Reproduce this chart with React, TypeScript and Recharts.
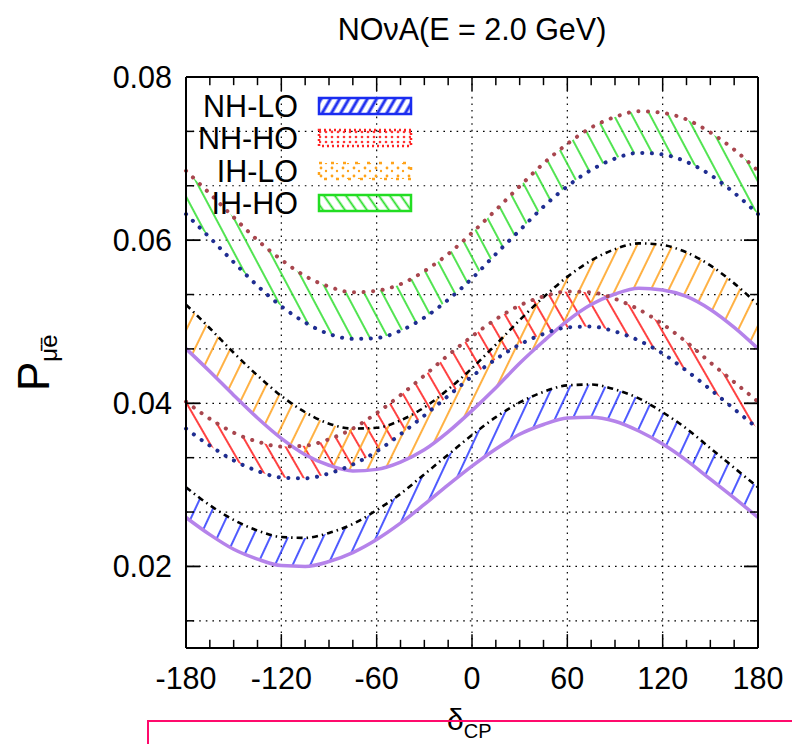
import {
  ComposedChart,
  Area,
  Line,
  XAxis,
  YAxis,
  CartesianGrid,
  ReferenceLine,
  Legend,
} from "recharts";

const FONT = '"Liberation Sans", Arial, Helvetica, sans-serif';

// delta_CP in degrees
const deltaCP = [
  -180, -165, -150, -135, -120, -105, -90, -75, -60, -45, -30, -15, 0, 15, 30,
  45, 60, 75, 90, 105, 120, 135, 150, 165, 180,
];

// NH-LO band (purple solid lower, black dash-dot upper)
const nhloLow = [
  0.026, 0.0239, 0.0221, 0.0209, 0.0201, 0.02, 0.0206, 0.0217, 0.0233, 0.0253,
  0.0276, 0.03, 0.0323, 0.0344, 0.0362, 0.0374, 0.0382, 0.0383, 0.0378, 0.0366,
  0.035, 0.033, 0.0307, 0.0284, 0.026,
];
const nhloHigh = [
  0.0297, 0.0275, 0.0257, 0.0244, 0.0236, 0.0235, 0.0241, 0.0252, 0.0269,
  0.0289, 0.0313, 0.0337, 0.0361, 0.0383, 0.0401, 0.0414, 0.0422, 0.0423,
  0.0417, 0.0406, 0.0389, 0.0369, 0.0345, 0.0321, 0.0297,
];
// NH-HO band (navy dotted lower, brown dotted upper)
const nhhoLow = [
  0.0369, 0.0348, 0.033, 0.0317, 0.0309, 0.0308, 0.0314, 0.0325, 0.0341,
  0.0362, 0.0385, 0.0409, 0.0433, 0.0454, 0.0472, 0.0485, 0.0493, 0.0494,
  0.0488, 0.0477, 0.0461, 0.044, 0.0417, 0.0393, 0.0369,
];
const nhhoHigh = [
  0.0402, 0.0381, 0.0364, 0.0353, 0.0347, 0.0348, 0.0356, 0.0369, 0.0388,
  0.041, 0.0434, 0.0459, 0.0482, 0.0503, 0.052, 0.0531, 0.0537, 0.0536, 0.0528,
  0.0515, 0.0497, 0.0475, 0.045, 0.0426, 0.0402,
];
// IH-LO band
const ihloLow = [
  0.0467, 0.0439, 0.041, 0.0382, 0.0357, 0.0337, 0.0324, 0.0317, 0.0319,
  0.0328, 0.0343, 0.0365, 0.0391, 0.0419, 0.0449, 0.0476, 0.0501, 0.0521,
  0.0534, 0.0541, 0.0539, 0.0531, 0.0515, 0.0493, 0.0467,
];
const ihloHigh = [
  0.0521, 0.0492, 0.0462, 0.0434, 0.0409, 0.0389, 0.0375, 0.0369, 0.037,
  0.0379, 0.0395, 0.0417, 0.0443, 0.0472, 0.0502, 0.053, 0.0555, 0.0575,
  0.0589, 0.0596, 0.0594, 0.0585, 0.0569, 0.0547, 0.0521,
];
// IH-HO band
const ihhoLow = [
  0.0632, 0.0603, 0.0573, 0.0544, 0.0519, 0.0499, 0.0485, 0.0479, 0.048,
  0.0489, 0.0505, 0.0527, 0.0553, 0.0583, 0.0612, 0.0641, 0.0666, 0.0686,
  0.07, 0.0707, 0.0705, 0.0696, 0.068, 0.0658, 0.0632,
];
const ihhoHigh = [
  0.0685, 0.0657, 0.0628, 0.06, 0.0576, 0.0556, 0.0543, 0.0536, 0.0538,
  0.0546, 0.0562, 0.0583, 0.0609, 0.0637, 0.0666, 0.0694, 0.0718, 0.0738,
  0.0751, 0.0758, 0.0756, 0.0748, 0.0732, 0.0711, 0.0685,
];

const xTicks = [-180, -120, -60, 0, 60, 120, 180];
const xMajorMarks = [-120, -60, 0, 60, 120];
const xMinorMarks = [
  -165, -150, -135, -105, -90, -75, -45, -30, -15, 15, 30, 45, 75, 90, 105,
  135, 150, 165,
];
const yLabelTicks = [0.02, 0.04, 0.06, 0.08];
const yGridTicks = [
  0.013333, 0.02, 0.026667, 0.033333, 0.04, 0.046667, 0.053333, 0.06, 0.066667,
  0.073333, 0.08,
];
const yMajorMarks = [0.02, 0.04, 0.06];
const yMinorMarks = [0.013333, 0.026667, 0.033333, 0.046667, 0.053333, 0.066667, 0.073333];

const legendNames = ["NH-LO", "NH-HO", "IH-LO", "IH-HO"];

const rows = deltaCP.map((d, i) => ({
  d,
  nhloLow: nhloLow[i],
  nhloHigh: nhloHigh[i],
  nhloBand: [nhloLow[i], nhloHigh[i]],
  nhhoLow: nhhoLow[i],
  nhhoHigh: nhhoHigh[i],
  nhhoBand: [nhhoLow[i], nhhoHigh[i]],
  ihloLow: ihloLow[i],
  ihloHigh: ihloHigh[i],
  ihloBand: [ihloLow[i], ihloHigh[i]],
  ihhoLow: ihhoLow[i],
  ihhoHigh: ihhoHigh[i],
  ihhoBand: [ihhoLow[i], ihhoHigh[i]],
}));

// tick mark lengths in data units (plot is 572 x 571 px)
const X_MAJOR = 8.8;
const X_MINOR = 5;
const Y_MAJOR = 0.0017;
const Y_MINOR = 0.001;

const PURPLE = "#b583ea";
const NAVY = "#1f2d91";
const BROWN = "#a8464e";

const fmtY = (v: number) =>
  yLabelTicks.some((t) => Math.abs(t - v) < 1e-6) ? v.toFixed(2) : "";

const hatch = (id: string, color: string, angle: number, gap: number, w = 1.7) => (
  <pattern
    id={id}
    patternUnits="userSpaceOnUse"
    width={gap}
    height={gap}
    patternTransform={`rotate(${angle})`}
  >
    <line x1={gap / 2} y1={0} x2={gap / 2} y2={gap} stroke={color} strokeWidth={w} />
  </pattern>
);

const renderLegend = () => {
  const rowY = [21, 53, 86, 118];
  return (
    <svg width={240} height={135} style={{ display: "block", overflow: "visible" }}>
      {legendNames.map((name, i) => (
        <text
          key={name}
          x={112}
          y={rowY[i] + 11}
          textAnchor="end"
          fontSize={30.5}
          fontFamily={FONT}
          fill="#000"
        >
          {name}
        </text>
      ))}
      <rect x={133} y={rowY[0] - 8} width={92} height={16} fill="url(#legNHLO)" stroke="#1a2cf0" strokeWidth={2.5} />
      <rect x={133} y={rowY[1] - 8} width={92} height={16} fill="url(#legDotsRed)" stroke="#f22" strokeWidth={2.5} strokeDasharray="2 3" />
      <rect x={133} y={rowY[2] - 8} width={92} height={16} fill="url(#legDotsOrange)" stroke="#ffa31a" strokeWidth={2.5} strokeDasharray="3 9" />
      <rect x={133} y={rowY[3] - 8} width={92} height={16} fill="url(#legIHHO)" stroke="#22dd22" strokeWidth={2.5} />
    </svg>
  );
};

export default function App() {
  return (
    <div
      style={{
        position: "absolute",
        left: 0,
        top: 0,
        width: 792,
        height: 744,
        background: "#fff",
        fontFamily: FONT,
        overflow: "hidden",
      }}
    >
      <ComposedChart
        width={792}
        height={744}
        data={rows}
        margin={{ top: 77, right: 34, bottom: 56, left: 106 }}
      >
        <CartesianGrid stroke="#000" strokeDasharray="1.6 5" strokeWidth={1.2} />
        <XAxis
          dataKey="d"
          type="number"
          domain={[-180, 180]}
          ticks={xTicks}
          interval={0}
          height={40}
          tickSize={0}
          tickMargin={19}
          axisLine={{ stroke: "#000", strokeWidth: 2 }}
          tick={{ fontSize: 30.5, fill: "#000", fontFamily: FONT }}
        />
        <YAxis
          type="number"
          domain={[0.01, 0.08]}
          ticks={yGridTicks}
          interval={0}
          width={80}
          tickSize={0}
          tickMargin={14}
          tickFormatter={fmtY}
          axisLine={{ stroke: "#000", strokeWidth: 2 }}
          tick={{ fontSize: 30.5, fill: "#000", fontFamily: FONT }}
        />

        <Area dataKey="nhloBand" type="monotone" stroke="none" fill="url(#hatchNHLO)" fillOpacity={1} isAnimationActive={false} />
        <Area dataKey="nhhoBand" type="monotone" stroke="none" fill="url(#hatchNHHO)" fillOpacity={1} isAnimationActive={false} />
        <Area dataKey="ihloBand" type="monotone" stroke="none" fill="url(#hatchIHLO)" fillOpacity={1} isAnimationActive={false} />
        <Area dataKey="ihhoBand" type="monotone" stroke="none" fill="url(#hatchIHHO)" fillOpacity={1} isAnimationActive={false} />

        <Line dataKey="nhloLow" type="monotone" stroke={PURPLE} strokeWidth={3.5} dot={false} isAnimationActive={false} />
        <Line dataKey="nhloHigh" type="monotone" stroke="#000" strokeWidth={2.6} strokeDasharray="6 4 1.5 4" dot={false} isAnimationActive={false} />
        <Line dataKey="ihloLow" type="monotone" stroke={PURPLE} strokeWidth={3.5} dot={false} isAnimationActive={false} />
        <Line dataKey="ihloHigh" type="monotone" stroke="#000" strokeWidth={2.6} strokeDasharray="6 4 1.5 4" dot={false} isAnimationActive={false} />
        <Line dataKey="nhhoLow" type="monotone" stroke={NAVY} strokeWidth={4} strokeDasharray="0.1 9.5" strokeLinecap="round" dot={false} isAnimationActive={false} />
        <Line dataKey="nhhoHigh" type="monotone" stroke={BROWN} strokeWidth={4} strokeDasharray="0.1 9.5" strokeLinecap="round" dot={false} isAnimationActive={false} />
        <Line dataKey="ihhoLow" type="monotone" stroke={NAVY} strokeWidth={4} strokeDasharray="0.1 9.5" strokeLinecap="round" dot={false} isAnimationActive={false} />
        <Line dataKey="ihhoHigh" type="monotone" stroke={BROWN} strokeWidth={4} strokeDasharray="0.1 9.5" strokeLinecap="round" dot={false} isAnimationActive={false} />

        {/* frame top and right */}
        <ReferenceLine y={0.08} stroke="#000" strokeWidth={2} />
        <ReferenceLine x={180} stroke="#000" strokeWidth={2} />

        {/* inward tick marks, gnuplot style */}
        {xMajorMarks.map((v) => (
          <ReferenceLine key={`xb${v}`} segment={[{ x: v, y: 0.01 }, { x: v, y: 0.01 + Y_MAJOR }]} stroke="#000" strokeWidth={1.5} />
        ))}
        {xMajorMarks.map((v) => (
          <ReferenceLine key={`xt${v}`} segment={[{ x: v, y: 0.08 }, { x: v, y: 0.08 - Y_MAJOR }]} stroke="#000" strokeWidth={1.5} />
        ))}
        {xMinorMarks.map((v) => (
          <ReferenceLine key={`xbm${v}`} segment={[{ x: v, y: 0.01 }, { x: v, y: 0.01 + Y_MINOR }]} stroke="#000" strokeWidth={1.5} />
        ))}
        {xMinorMarks.map((v) => (
          <ReferenceLine key={`xtm${v}`} segment={[{ x: v, y: 0.08 }, { x: v, y: 0.08 - Y_MINOR }]} stroke="#000" strokeWidth={1.5} />
        ))}
        {yMajorMarks.map((v) => (
          <ReferenceLine key={`yl${v}`} segment={[{ x: -180, y: v }, { x: -180 + X_MAJOR, y: v }]} stroke="#000" strokeWidth={1.8} />
        ))}
        {yMajorMarks.map((v) => (
          <ReferenceLine key={`yr${v}`} segment={[{ x: 180, y: v }, { x: 180 - X_MAJOR, y: v }]} stroke="#000" strokeWidth={1.8} />
        ))}
        {yMinorMarks.map((v) => (
          <ReferenceLine key={`ylm${v}`} segment={[{ x: -180, y: v }, { x: -180 + X_MINOR, y: v }]} stroke="#000" strokeWidth={1.5} />
        ))}
        {yMinorMarks.map((v) => (
          <ReferenceLine key={`yrm${v}`} segment={[{ x: 180, y: v }, { x: 180 - X_MINOR, y: v }]} stroke="#000" strokeWidth={1.5} />
        ))}

        <Legend
          layout="vertical"
          align="center"
          verticalAlign="middle"
          wrapperStyle={{ left: 186, top: 85, width: 240, height: 135 }}
          content={renderLegend}
        />
      </ComposedChart>

      <svg
        width={792}
        height={744}
        style={{ position: "absolute", left: 0, top: 0, pointerEvents: "none" }}
      >
        <defs>
          {hatch("hatchNHLO", "#2f3dff", 25, 16)}
          {hatch("hatchNHHO", "#ff2020", -30, 16)}
          {hatch("hatchIHLO", "#ffa322", 26, 16)}
          {hatch("hatchIHHO", "#33e033", -28, 16)}
          {hatch("legNHLO", "#2030f0", 30, 8, 3)}
          {hatch("legIHHO", "#22dd22", -35, 9, 1.8)}
          <pattern id="legDotsRed" patternUnits="userSpaceOnUse" width={6} height={5}>
            <circle cx={2} cy={2} r={1.3} fill="#f33" />
          </pattern>
          <pattern id="legDotsOrange" patternUnits="userSpaceOnUse" width={11} height={8}>
            <circle cx={3} cy={3} r={1.4} fill="#ffa31a" />
            <circle cx={8} cy={6} r={1.2} fill="#ffa31a" />
          </pattern>
        </defs>

        <text x={472} y={40} textAnchor="middle" fontSize={30.5} fill="#000" fontFamily={FONT}>
          NOνA(E = 2.0 GeV)
        </text>

        <text transform="translate(49,391) rotate(-90)" fontSize={44} fill="#000" fontFamily={FONT}>
          P
          <tspan fontSize={24} dy={8}>
            μ̄ē
          </tspan>
        </text>

        <text x={447} y={730} fontSize={30} fill="#000" fontFamily={FONT}>
          δ
          <tspan fontSize={20} dy={8}>
            CP
          </tspan>
        </text>

        <path d="M148,744 L148,721 L792,721" fill="none" stroke="#ff0a6c" strokeWidth={2} />
      </svg>
    </div>
  );
}
